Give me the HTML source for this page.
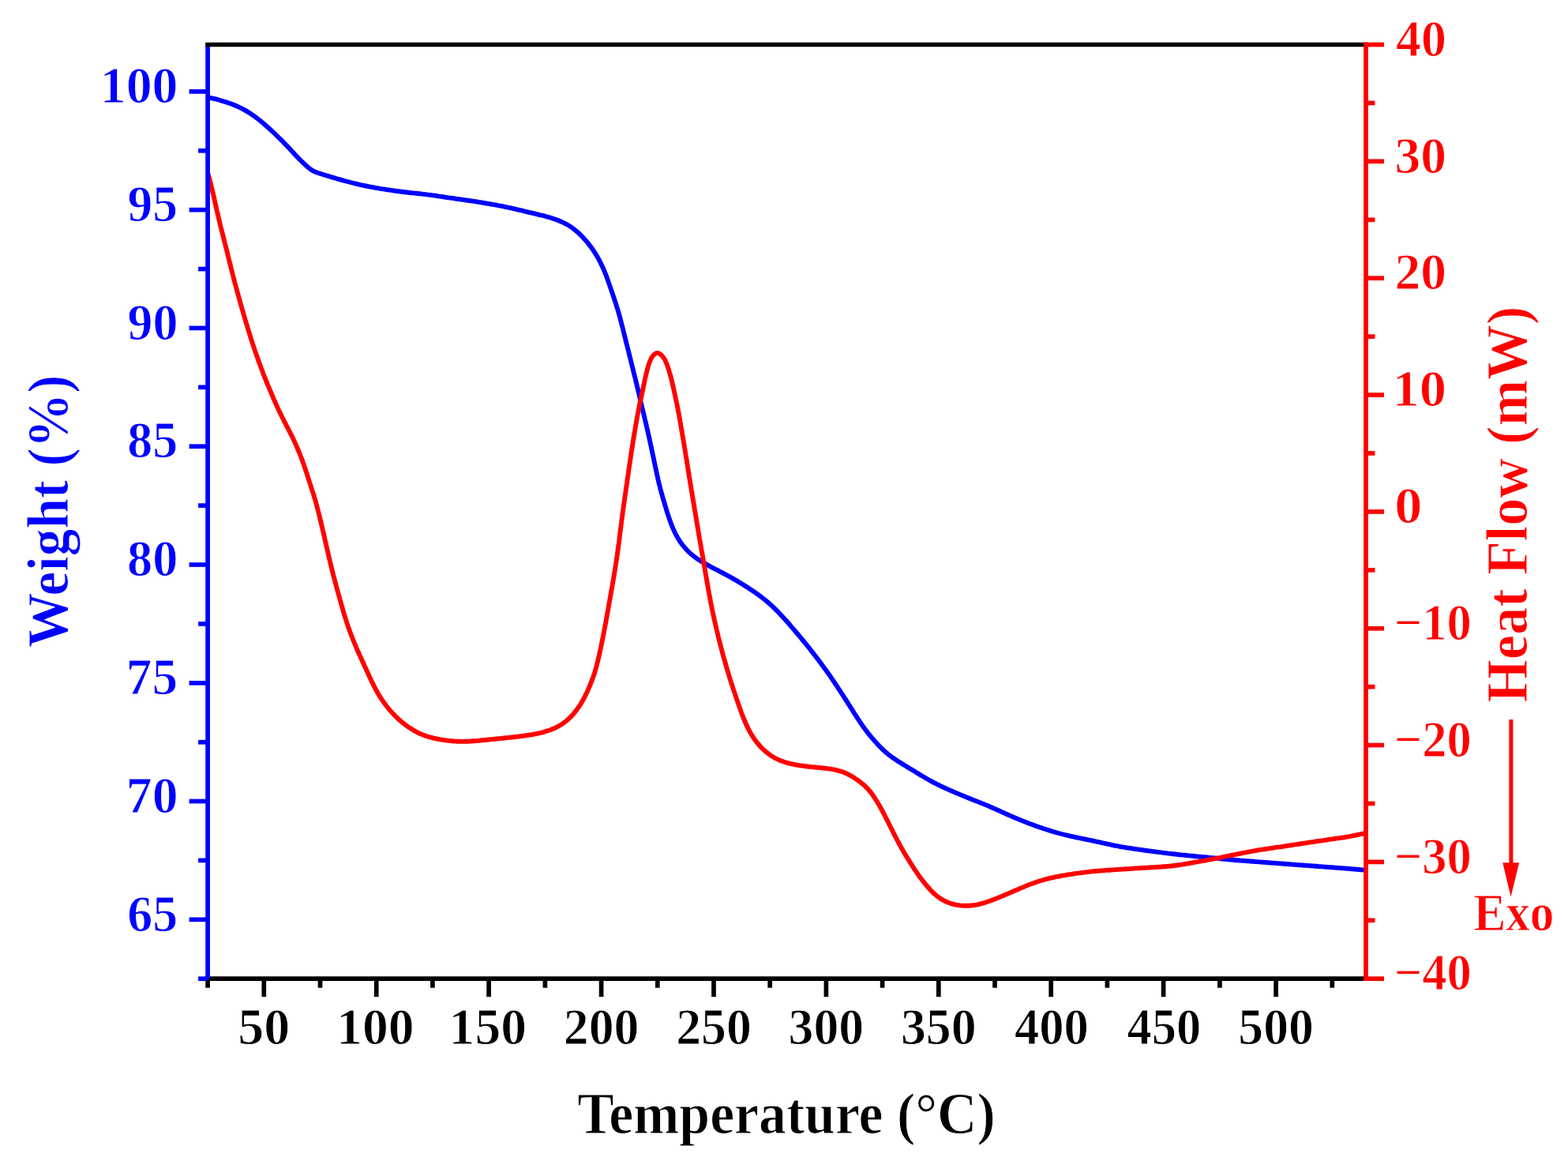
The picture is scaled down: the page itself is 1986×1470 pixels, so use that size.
<!DOCTYPE html><html><head><meta charset="utf-8"><title>TGA/DSC</title><style>html,body{margin:0;padding:0;background:#fff;overflow:hidden}svg{display:block}</style></head><body>
<svg width="1986" height="1470" viewBox="0 0 1986 1470">
<rect width="1986" height="1470" fill="#fff"/>
<defs><clipPath id="c"><rect x="263.1" y="56.5" width="1466.9" height="1182.7"/></clipPath></defs>
<g clip-path="url(#c)" fill="none" stroke-linejoin="round" stroke-linecap="round">
<path d="M263.5,123.3 L265.5,123.7 L267.4,124.1 L269.4,124.6 L271.3,125.0 L273.3,125.4 L275.2,125.9 L277.1,126.5 L279.0,127.1 L280.9,127.6 L282.8,128.2 L284.8,128.8 L286.6,129.4 L288.5,130.0 L290.4,130.7 L292.3,131.3 L294.2,132.0 L296.0,132.7 L297.9,133.5 L299.7,134.3 L301.5,135.1 L303.3,135.9 L305.1,136.8 L306.9,137.7 L308.6,138.6 L310.4,139.6 L312.1,140.6 L313.8,141.6 L315.5,142.7 L317.2,143.8 L318.8,144.9 L320.5,146.0 L322.1,147.2 L323.7,148.4 L325.3,149.5 L326.9,150.8 L328.4,152.0 L330.0,153.2 L331.5,154.5 L333.1,155.8 L334.6,157.1 L336.1,158.4 L337.6,159.7 L339.1,161.0 L340.6,162.4 L342.1,163.7 L343.5,165.1 L345.0,166.4 L346.5,167.8 L347.9,169.2 L349.4,170.6 L350.8,172.0 L352.2,173.4 L353.7,174.8 L355.1,176.2 L356.5,177.6 L357.9,179.0 L359.3,180.4 L360.7,181.9 L362.1,183.3 L363.5,184.7 L364.8,186.2 L366.2,187.6 L367.6,189.1 L368.9,190.6 L370.3,192.0 L371.7,193.5 L373.0,195.0 L374.4,196.4 L375.7,197.9 L377.1,199.3 L378.5,200.8 L379.9,202.2 L381.3,203.6 L382.8,205.0 L384.2,206.3 L385.6,207.7 L387.1,209.1 L388.6,210.4 L390.1,211.7 L391.6,213.0 L393.2,214.2 L394.8,215.3 L396.6,216.3 L398.3,217.2 L400.2,218.0 L402.0,218.7 L403.9,219.3 L405.8,219.9 L407.7,220.5 L409.7,221.1 L411.6,221.7 L413.5,222.3 L415.4,222.9 L417.3,223.4 L419.2,224.0 L421.1,224.6 L423.1,225.2 L425.0,225.7 L426.9,226.3 L428.8,226.8 L430.7,227.4 L432.7,227.9 L434.6,228.4 L436.5,229.0 L438.5,229.5 L440.4,230.0 L442.3,230.5 L444.3,231.0 L446.2,231.5 L448.1,232.0 L450.1,232.5 L452.0,232.9 L454.0,233.4 L455.9,233.8 L457.9,234.3 L459.8,234.7 L461.8,235.1 L463.7,235.5 L465.7,235.9 L467.7,236.3 L469.6,236.7 L471.6,237.0 L473.5,237.4 L475.5,237.8 L477.5,238.1 L479.5,238.4 L481.4,238.8 L483.4,239.1 L485.4,239.4 L487.4,239.7 L489.3,240.0 L491.3,240.3 L493.3,240.6 L495.3,240.9 L497.2,241.2 L499.2,241.5 L501.2,241.8 L503.2,242.0 L505.2,242.3 L507.2,242.5 L509.1,242.8 L511.1,243.0 L513.1,243.3 L515.1,243.5 L517.1,243.7 L519.1,244.0 L521.1,244.2 L523.0,244.4 L525.0,244.6 L527.0,244.8 L529.0,245.0 L531.0,245.2 L533.0,245.4 L535.0,245.7 L537.0,245.9 L538.9,246.1 L540.9,246.4 L542.9,246.6 L544.9,246.9 L546.9,247.2 L548.9,247.4 L550.8,247.7 L552.8,248.0 L554.8,248.3 L556.8,248.6 L558.7,248.9 L560.7,249.2 L562.7,249.5 L564.7,249.8 L566.7,250.1 L568.6,250.4 L570.6,250.6 L572.6,250.9 L574.6,251.2 L576.6,251.5 L578.5,251.8 L580.5,252.1 L582.5,252.3 L584.5,252.6 L586.5,252.9 L588.4,253.2 L590.4,253.5 L592.4,253.8 L594.4,254.0 L596.4,254.3 L598.3,254.6 L600.3,254.9 L602.3,255.2 L604.3,255.5 L606.2,255.9 L608.2,256.2 L610.2,256.5 L612.2,256.8 L614.1,257.1 L616.1,257.5 L618.1,257.8 L620.1,258.1 L622.0,258.5 L624.0,258.8 L626.0,259.2 L627.9,259.5 L629.9,259.9 L631.9,260.3 L633.8,260.6 L635.8,261.0 L637.7,261.4 L639.7,261.8 L641.7,262.3 L643.6,262.7 L645.6,263.1 L647.5,263.5 L649.5,264.0 L651.4,264.4 L653.4,264.9 L655.3,265.3 L657.3,265.8 L659.2,266.2 L661.1,266.7 L663.1,267.2 L665.0,267.6 L667.0,268.1 L668.9,268.6 L670.9,269.0 L672.8,269.5 L674.8,269.9 L676.7,270.4 L678.7,270.9 L680.6,271.3 L682.5,271.8 L684.5,272.3 L686.4,272.7 L688.4,273.2 L690.3,273.7 L692.2,274.3 L694.2,274.8 L696.1,275.4 L698.0,275.9 L699.9,276.5 L701.8,277.2 L703.7,277.8 L705.5,278.5 L707.4,279.2 L709.2,280.0 L711.1,280.8 L712.9,281.6 L714.6,282.5 L716.4,283.4 L718.2,284.3 L719.9,285.3 L721.6,286.3 L723.2,287.4 L724.8,288.6 L726.4,289.7 L728.0,291.0 L729.5,292.2 L731.0,293.5 L732.5,294.8 L734.0,296.2 L735.4,297.6 L736.8,299.0 L738.2,300.4 L739.5,301.9 L740.9,303.4 L742.2,304.9 L743.5,306.4 L744.8,307.9 L746.0,309.5 L747.2,311.1 L748.4,312.6 L749.6,314.3 L750.7,315.9 L751.8,317.5 L752.9,319.2 L754.0,320.9 L755.0,322.6 L756.1,324.3 L757.1,326.0 L758.0,327.8 L759.0,329.5 L759.9,331.3 L760.8,333.1 L761.7,334.9 L762.6,336.7 L763.4,338.5 L764.2,340.3 L765.0,342.1 L765.8,344.0 L766.5,345.8 L767.3,347.7 L768.0,349.5 L768.7,351.4 L769.3,353.3 L770.0,355.2 L770.7,357.1 L771.3,359.0 L772.0,360.8 L772.6,362.7 L773.3,364.6 L773.9,366.5 L774.6,368.4 L775.2,370.3 L775.9,372.2 L776.5,374.1 L777.2,376.0 L777.8,377.9 L778.4,379.8 L779.1,381.7 L779.7,383.6 L780.3,385.5 L780.9,387.4 L781.5,389.3 L782.1,391.2 L782.7,393.1 L783.2,395.0 L783.8,396.9 L784.3,398.9 L784.9,400.8 L785.4,402.7 L785.9,404.7 L786.4,406.6 L786.9,408.5 L787.4,410.5 L787.9,412.4 L788.4,414.3 L788.9,416.3 L789.4,418.2 L789.8,420.2 L790.3,422.1 L790.8,424.0 L791.3,426.0 L791.8,427.9 L792.3,429.9 L792.7,431.8 L793.2,433.7 L793.7,435.7 L794.2,437.6 L794.7,439.6 L795.2,441.5 L795.7,443.4 L796.2,445.4 L796.6,447.3 L797.1,449.3 L797.6,451.2 L798.1,453.1 L798.6,455.1 L799.1,457.0 L799.5,459.0 L800.0,460.9 L800.5,462.9 L801.0,464.8 L801.5,466.7 L802.0,468.7 L802.4,470.6 L802.9,472.6 L803.4,474.5 L803.9,476.4 L804.4,478.4 L804.9,480.3 L805.3,482.3 L805.8,484.2 L806.3,486.1 L806.7,488.1 L807.2,490.0 L807.7,492.0 L808.1,493.9 L808.6,495.9 L809.0,497.8 L809.5,499.8 L809.9,501.7 L810.4,503.7 L810.8,505.6 L811.3,507.6 L811.8,509.5 L812.2,511.5 L812.7,513.4 L813.1,515.3 L813.6,517.3 L814.1,519.2 L814.5,521.2 L815.0,523.1 L815.5,525.1 L815.9,527.0 L816.4,529.0 L816.8,530.9 L817.3,532.9 L817.8,534.8 L818.2,536.8 L818.7,538.7 L819.1,540.7 L819.6,542.6 L820.0,544.5 L820.5,546.5 L820.9,548.4 L821.3,550.4 L821.8,552.4 L822.2,554.3 L822.7,556.3 L823.1,558.2 L823.5,560.2 L823.9,562.1 L824.4,564.1 L824.8,566.0 L825.2,568.0 L825.6,569.9 L826.0,571.9 L826.4,573.9 L826.9,575.8 L827.3,577.8 L827.7,579.7 L828.1,581.7 L828.5,583.6 L828.9,585.6 L829.3,587.6 L829.7,589.5 L830.1,591.5 L830.6,593.4 L831.0,595.4 L831.4,597.3 L831.8,599.3 L832.2,601.2 L832.7,603.2 L833.1,605.2 L833.5,607.1 L834.0,609.1 L834.4,611.0 L834.9,612.9 L835.4,614.9 L835.9,616.8 L836.3,618.8 L836.9,620.7 L837.4,622.6 L837.9,624.6 L838.5,626.5 L839.0,628.4 L839.6,630.3 L840.1,632.2 L840.7,634.2 L841.3,636.1 L841.8,638.0 L842.4,639.9 L843.0,641.8 L843.6,643.7 L844.1,645.6 L844.7,647.6 L845.3,649.5 L845.9,651.4 L846.5,653.3 L847.2,655.2 L847.8,657.1 L848.5,658.9 L849.2,660.8 L849.8,662.7 L850.6,664.6 L851.3,666.4 L852.1,668.3 L852.9,670.1 L853.7,671.9 L854.5,673.7 L855.4,675.5 L856.3,677.3 L857.3,679.0 L858.3,680.7 L859.3,682.4 L860.3,684.1 L861.4,685.8 L862.6,687.4 L863.7,689.0 L864.9,690.6 L866.2,692.1 L867.5,693.6 L868.8,695.1 L870.2,696.6 L871.6,698.0 L873.0,699.4 L874.4,700.7 L875.9,702.0 L877.5,703.3 L879.0,704.5 L880.6,705.7 L882.2,706.9 L883.9,708.0 L885.5,709.1 L887.2,710.2 L888.9,711.2 L890.6,712.2 L892.3,713.2 L894.1,714.2 L895.8,715.2 L897.6,716.2 L899.3,717.1 L901.1,718.1 L902.9,719.0 L904.6,719.9 L906.4,720.8 L908.2,721.7 L910.0,722.7 L911.7,723.6 L913.5,724.5 L915.3,725.4 L917.1,726.4 L918.8,727.3 L920.6,728.2 L922.3,729.2 L924.1,730.1 L925.8,731.1 L927.6,732.1 L929.3,733.1 L931.1,734.1 L932.8,735.1 L934.5,736.1 L936.2,737.2 L937.9,738.2 L939.6,739.3 L941.3,740.3 L943.0,741.4 L944.7,742.4 L946.4,743.5 L948.1,744.6 L949.7,745.7 L951.4,746.8 L953.1,747.9 L954.7,749.0 L956.4,750.2 L958.0,751.3 L959.6,752.5 L961.3,753.6 L962.9,754.8 L964.5,756.0 L966.0,757.2 L967.6,758.5 L969.2,759.7 L970.7,761.0 L972.2,762.3 L973.8,763.6 L975.2,764.9 L976.7,766.2 L978.2,767.6 L979.6,769.0 L981.1,770.4 L982.5,771.8 L983.9,773.2 L985.3,774.6 L986.7,776.0 L988.1,777.5 L989.4,778.9 L990.8,780.4 L992.1,781.9 L993.5,783.4 L994.8,784.8 L996.2,786.3 L997.5,787.8 L998.8,789.3 L1000.1,790.8 L1001.4,792.4 L1002.7,793.9 L1004.0,795.4 L1005.3,796.9 L1006.6,798.4 L1007.9,800.0 L1009.2,801.5 L1010.5,803.0 L1011.8,804.5 L1013.1,806.1 L1014.4,807.6 L1015.6,809.2 L1016.9,810.7 L1018.2,812.2 L1019.5,813.8 L1020.7,815.3 L1022.0,816.9 L1023.2,818.5 L1024.5,820.0 L1025.7,821.6 L1026.9,823.2 L1028.2,824.7 L1029.4,826.3 L1030.6,827.9 L1031.9,829.5 L1033.1,831.1 L1034.3,832.6 L1035.5,834.2 L1036.7,835.8 L1037.9,837.4 L1039.1,839.0 L1040.3,840.6 L1041.5,842.3 L1042.7,843.9 L1043.8,845.5 L1045.0,847.1 L1046.2,848.7 L1047.4,850.3 L1048.5,852.0 L1049.7,853.6 L1050.8,855.2 L1052.0,856.9 L1053.1,858.5 L1054.2,860.2 L1055.4,861.8 L1056.5,863.5 L1057.6,865.1 L1058.7,866.8 L1059.8,868.4 L1060.9,870.1 L1062.0,871.8 L1063.1,873.5 L1064.2,875.1 L1065.3,876.8 L1066.4,878.5 L1067.5,880.2 L1068.6,881.9 L1069.6,883.5 L1070.7,885.2 L1071.8,886.9 L1072.9,888.6 L1073.9,890.3 L1075.0,892.0 L1076.1,893.7 L1077.2,895.4 L1078.2,897.0 L1079.3,898.7 L1080.4,900.4 L1081.4,902.1 L1082.5,903.8 L1083.6,905.5 L1084.7,907.2 L1085.8,908.8 L1086.9,910.5 L1088.0,912.2 L1089.1,913.9 L1090.2,915.5 L1091.3,917.2 L1092.4,918.8 L1093.6,920.4 L1094.8,922.1 L1096.0,923.7 L1097.2,925.3 L1098.4,926.8 L1099.6,928.4 L1100.8,930.0 L1102.1,931.5 L1103.4,933.1 L1104.7,934.6 L1106.0,936.1 L1107.3,937.6 L1108.6,939.1 L1110.0,940.6 L1111.3,942.1 L1112.7,943.5 L1114.0,945.0 L1115.4,946.4 L1116.9,947.8 L1118.3,949.2 L1119.8,950.5 L1121.2,951.9 L1122.7,953.2 L1124.3,954.4 L1125.8,955.7 L1127.4,956.9 L1129.0,958.1 L1130.6,959.2 L1132.3,960.4 L1133.9,961.5 L1135.6,962.6 L1137.2,963.7 L1138.9,964.8 L1140.6,965.8 L1142.3,966.9 L1144.0,967.9 L1145.7,969.0 L1147.4,970.0 L1149.1,971.1 L1150.8,972.1 L1152.5,973.2 L1154.2,974.2 L1156.0,975.2 L1157.7,976.3 L1159.4,977.3 L1161.1,978.4 L1162.8,979.4 L1164.5,980.4 L1166.2,981.5 L1167.9,982.5 L1169.7,983.5 L1171.4,984.5 L1173.1,985.5 L1174.8,986.5 L1176.6,987.5 L1178.3,988.5 L1180.1,989.4 L1181.8,990.4 L1183.6,991.3 L1185.4,992.2 L1187.2,993.1 L1189.0,994.0 L1190.7,994.9 L1192.5,995.8 L1194.4,996.6 L1196.2,997.5 L1198.0,998.3 L1199.8,999.1 L1201.6,999.9 L1203.5,1000.7 L1205.3,1001.5 L1207.2,1002.3 L1209.0,1003.1 L1210.8,1003.9 L1212.7,1004.6 L1214.5,1005.4 L1216.4,1006.2 L1218.2,1006.9 L1220.1,1007.7 L1221.9,1008.4 L1223.8,1009.2 L1225.6,1009.9 L1227.5,1010.7 L1229.3,1011.4 L1231.2,1012.2 L1233.1,1012.9 L1234.9,1013.7 L1236.8,1014.4 L1238.6,1015.1 L1240.5,1015.9 L1242.3,1016.6 L1244.2,1017.4 L1246.1,1018.1 L1247.9,1018.9 L1249.8,1019.6 L1251.6,1020.4 L1253.4,1021.2 L1255.3,1022.0 L1257.1,1022.8 L1258.9,1023.6 L1260.8,1024.4 L1262.6,1025.2 L1264.4,1026.0 L1266.2,1026.8 L1268.1,1027.7 L1269.9,1028.5 L1271.7,1029.3 L1273.5,1030.2 L1275.3,1031.0 L1277.2,1031.8 L1279.0,1032.6 L1280.8,1033.4 L1282.7,1034.2 L1284.5,1035.0 L1286.3,1035.8 L1288.2,1036.6 L1290.0,1037.3 L1291.9,1038.1 L1293.7,1038.8 L1295.6,1039.6 L1297.4,1040.3 L1299.3,1041.0 L1301.2,1041.7 L1303.0,1042.5 L1304.9,1043.2 L1306.8,1043.8 L1308.7,1044.5 L1310.6,1045.2 L1312.4,1045.9 L1314.3,1046.6 L1316.2,1047.2 L1318.1,1047.9 L1320.0,1048.5 L1321.9,1049.2 L1323.8,1049.8 L1325.7,1050.4 L1327.6,1051.0 L1329.5,1051.6 L1331.4,1052.2 L1333.3,1052.8 L1335.2,1053.4 L1337.1,1053.9 L1339.1,1054.5 L1341.0,1055.0 L1342.9,1055.5 L1344.9,1056.0 L1346.8,1056.5 L1348.7,1057.0 L1350.7,1057.5 L1352.6,1057.9 L1354.6,1058.4 L1356.5,1058.8 L1358.5,1059.2 L1360.4,1059.7 L1362.4,1060.1 L1364.4,1060.5 L1366.3,1060.9 L1368.3,1061.3 L1370.2,1061.7 L1372.2,1062.1 L1374.2,1062.5 L1376.1,1062.9 L1378.1,1063.3 L1380.0,1063.7 L1382.0,1064.1 L1383.9,1064.5 L1385.9,1064.9 L1387.8,1065.3 L1389.8,1065.8 L1391.8,1066.2 L1393.7,1066.6 L1395.7,1067.1 L1397.6,1067.5 L1399.6,1068.0 L1401.5,1068.4 L1403.5,1068.8 L1405.4,1069.2 L1407.4,1069.7 L1409.3,1070.1 L1411.3,1070.5 L1413.3,1070.9 L1415.2,1071.2 L1417.2,1071.6 L1419.1,1072.0 L1421.1,1072.3 L1423.1,1072.7 L1425.1,1073.0 L1427.0,1073.3 L1429.0,1073.6 L1431.0,1073.9 L1433.0,1074.2 L1434.9,1074.5 L1436.9,1074.8 L1438.9,1075.1 L1440.9,1075.4 L1442.9,1075.7 L1444.8,1075.9 L1446.8,1076.2 L1448.8,1076.5 L1450.8,1076.8 L1452.8,1077.0 L1454.7,1077.3 L1456.7,1077.6 L1458.7,1077.8 L1460.7,1078.1 L1462.7,1078.3 L1464.7,1078.6 L1466.6,1078.9 L1468.6,1079.1 L1470.6,1079.4 L1472.6,1079.6 L1474.6,1079.9 L1476.6,1080.1 L1478.5,1080.4 L1480.5,1080.6 L1482.5,1080.8 L1484.5,1081.1 L1486.5,1081.3 L1488.5,1081.5 L1490.5,1081.7 L1492.5,1082.0 L1494.4,1082.2 L1496.4,1082.4 L1498.4,1082.6 L1500.4,1082.8 L1502.4,1083.0 L1504.4,1083.2 L1506.4,1083.4 L1508.4,1083.6 L1510.4,1083.8 L1512.3,1084.0 L1514.3,1084.2 L1516.3,1084.4 L1518.3,1084.6 L1520.3,1084.8 L1522.3,1085.0 L1524.3,1085.1 L1526.3,1085.3 L1528.3,1085.5 L1530.3,1085.7 L1532.3,1085.9 L1534.2,1086.1 L1536.2,1086.3 L1538.2,1086.5 L1540.2,1086.7 L1542.2,1086.9 L1544.2,1087.1 L1546.2,1087.3 L1548.2,1087.5 L1550.2,1087.7 L1552.2,1087.9 L1554.1,1088.1 L1556.1,1088.3 L1558.1,1088.5 L1560.1,1088.6 L1562.1,1088.8 L1564.1,1089.0 L1566.1,1089.2 L1568.1,1089.3 L1570.1,1089.5 L1572.1,1089.6 L1574.1,1089.8 L1576.1,1089.9 L1578.1,1090.1 L1580.1,1090.2 L1582.1,1090.4 L1584.0,1090.5 L1586.0,1090.7 L1588.0,1090.8 L1590.0,1091.0 L1592.0,1091.1 L1594.0,1091.3 L1596.0,1091.4 L1598.0,1091.6 L1600.0,1091.7 L1602.0,1091.9 L1604.0,1092.0 L1606.0,1092.2 L1608.0,1092.3 L1610.0,1092.5 L1612.0,1092.6 L1614.0,1092.8 L1616.0,1092.9 L1618.0,1093.1 L1619.9,1093.2 L1621.9,1093.4 L1623.9,1093.5 L1625.9,1093.7 L1627.9,1093.8 L1629.9,1094.0 L1631.9,1094.1 L1633.9,1094.3 L1635.9,1094.5 L1637.9,1094.6 L1639.9,1094.8 L1641.9,1094.9 L1643.9,1095.1 L1645.9,1095.2 L1647.9,1095.4 L1649.9,1095.5 L1651.9,1095.7 L1653.8,1095.8 L1655.8,1095.9 L1657.8,1096.1 L1659.8,1096.2 L1661.8,1096.4 L1663.8,1096.5 L1665.8,1096.7 L1667.8,1096.8 L1669.8,1097.0 L1671.8,1097.1 L1673.8,1097.3 L1675.8,1097.4 L1677.8,1097.6 L1679.8,1097.7 L1681.8,1097.9 L1683.8,1098.0 L1685.8,1098.2 L1687.8,1098.3 L1689.7,1098.5 L1691.7,1098.6 L1693.7,1098.8 L1695.7,1098.9 L1697.7,1099.1 L1699.7,1099.2 L1701.7,1099.4 L1703.7,1099.5 L1705.7,1099.7 L1707.7,1099.8 L1709.7,1100.0 L1711.7,1100.2 L1713.7,1100.4 L1715.7,1100.5 L1717.7,1100.7 L1719.7,1100.9 L1721.6,1101.0 L1723.6,1101.2 L1725.6,1101.4 L1727.6,1101.6 L1729.6,1101.8" stroke="#0000ff" stroke-width="5.9"/>
<path d="M263.5,220.0 L264.0,221.9 L264.6,223.9 L265.1,225.8 L265.6,227.7 L266.1,229.6 L266.6,231.6 L267.1,233.5 L267.6,235.5 L268.0,237.4 L268.5,239.4 L269.0,241.3 L269.4,243.3 L269.9,245.2 L270.3,247.2 L270.8,249.1 L271.2,251.1 L271.6,253.0 L272.1,255.0 L272.5,256.9 L273.0,258.9 L273.4,260.8 L273.8,262.8 L274.3,264.7 L274.7,266.7 L275.2,268.6 L275.6,270.6 L276.1,272.5 L276.5,274.5 L277.0,276.4 L277.4,278.3 L277.9,280.3 L278.4,282.2 L278.9,284.2 L279.3,286.1 L279.8,288.1 L280.3,290.0 L280.8,291.9 L281.3,293.9 L281.8,295.8 L282.3,297.8 L282.8,299.7 L283.3,301.6 L283.7,303.6 L284.2,305.5 L284.7,307.4 L285.2,309.4 L285.7,311.3 L286.2,313.3 L286.7,315.2 L287.2,317.1 L287.6,319.1 L288.1,321.0 L288.6,323.0 L289.1,324.9 L289.6,326.9 L290.0,328.8 L290.5,330.7 L291.0,332.7 L291.5,334.6 L292.0,336.6 L292.5,338.5 L292.9,340.4 L293.4,342.4 L293.9,344.3 L294.4,346.3 L294.9,348.2 L295.4,350.1 L295.9,352.1 L296.4,354.0 L296.9,355.9 L297.4,357.9 L297.9,359.8 L298.5,361.7 L299.0,363.7 L299.5,365.6 L300.0,367.5 L300.5,369.5 L301.1,371.4 L301.6,373.3 L302.1,375.2 L302.7,377.2 L303.2,379.1 L303.8,381.0 L304.3,382.9 L304.8,384.9 L305.4,386.8 L305.9,388.7 L306.5,390.6 L307.1,392.6 L307.6,394.5 L308.2,396.4 L308.7,398.3 L309.3,400.2 L309.8,402.2 L310.4,404.1 L311.0,406.0 L311.5,407.9 L312.1,409.8 L312.7,411.7 L313.3,413.7 L313.8,415.6 L314.4,417.5 L315.0,419.4 L315.6,421.3 L316.2,423.2 L316.8,425.1 L317.4,427.0 L318.0,429.0 L318.6,430.9 L319.2,432.8 L319.8,434.7 L320.4,436.6 L321.1,438.5 L321.7,440.4 L322.3,442.3 L323.0,444.1 L323.6,446.0 L324.3,447.9 L325.0,449.8 L325.6,451.7 L326.3,453.6 L327.0,455.5 L327.6,457.4 L328.3,459.2 L329.0,461.1 L329.7,463.0 L330.4,464.9 L331.1,466.7 L331.8,468.6 L332.5,470.5 L333.2,472.4 L333.9,474.2 L334.6,476.1 L335.3,478.0 L336.1,479.8 L336.8,481.7 L337.6,483.5 L338.3,485.4 L339.1,487.2 L339.9,489.1 L340.7,490.9 L341.4,492.7 L342.2,494.6 L343.0,496.4 L343.8,498.3 L344.6,500.1 L345.4,501.9 L346.1,503.8 L346.9,505.6 L347.7,507.5 L348.5,509.3 L349.3,511.1 L350.1,512.9 L350.9,514.8 L351.8,516.6 L352.6,518.4 L353.5,520.2 L354.3,522.0 L355.2,523.8 L356.1,525.6 L357.0,527.4 L357.9,529.2 L358.8,531.0 L359.7,532.8 L360.6,534.5 L361.5,536.3 L362.4,538.1 L363.3,539.9 L364.2,541.6 L365.2,543.4 L366.1,545.2 L367.0,547.0 L367.9,548.7 L368.8,550.5 L369.7,552.3 L370.6,554.1 L371.5,555.9 L372.3,557.7 L373.2,559.5 L374.0,561.3 L374.8,563.2 L375.6,565.0 L376.4,566.8 L377.2,568.7 L378.0,570.5 L378.7,572.4 L379.5,574.2 L380.2,576.1 L380.9,577.9 L381.7,579.8 L382.4,581.7 L383.1,583.5 L383.7,585.4 L384.4,587.3 L385.1,589.2 L385.7,591.1 L386.4,593.0 L387.0,594.9 L387.6,596.8 L388.3,598.7 L388.9,600.6 L389.5,602.5 L390.1,604.4 L390.7,606.3 L391.3,608.2 L391.9,610.1 L392.5,612.0 L393.2,613.9 L393.8,615.8 L394.4,617.7 L395.0,619.6 L395.6,621.5 L396.3,623.4 L396.9,625.3 L397.5,627.2 L398.0,629.1 L398.6,631.0 L399.2,633.0 L399.7,634.9 L400.3,636.8 L400.8,638.7 L401.3,640.7 L401.8,642.6 L402.3,644.5 L402.8,646.5 L403.3,648.4 L403.8,650.3 L404.3,652.3 L404.8,654.2 L405.2,656.2 L405.7,658.1 L406.2,660.1 L406.6,662.0 L407.1,664.0 L407.6,665.9 L408.0,667.8 L408.5,669.8 L408.9,671.7 L409.4,673.7 L409.9,675.6 L410.3,677.6 L410.8,679.5 L411.2,681.5 L411.6,683.4 L412.1,685.4 L412.5,687.3 L413.0,689.3 L413.4,691.2 L413.9,693.2 L414.3,695.1 L414.7,697.1 L415.2,699.0 L415.6,701.0 L416.1,702.9 L416.5,704.9 L417.0,706.8 L417.4,708.8 L417.9,710.7 L418.4,712.7 L418.8,714.6 L419.3,716.5 L419.8,718.5 L420.3,720.4 L420.8,722.4 L421.2,724.3 L421.7,726.2 L422.2,728.2 L422.7,730.1 L423.2,732.1 L423.7,734.0 L424.3,735.9 L424.8,737.9 L425.3,739.8 L425.8,741.7 L426.3,743.7 L426.8,745.6 L427.4,747.5 L427.9,749.4 L428.4,751.4 L429.0,753.3 L429.5,755.2 L430.1,757.1 L430.6,759.1 L431.1,761.0 L431.7,762.9 L432.2,764.8 L432.8,766.8 L433.3,768.7 L433.9,770.6 L434.4,772.5 L435.0,774.5 L435.5,776.4 L436.1,778.3 L436.7,780.2 L437.3,782.1 L437.9,784.0 L438.5,785.9 L439.1,787.8 L439.7,789.7 L440.4,791.6 L441.0,793.5 L441.7,795.4 L442.4,797.3 L443.0,799.2 L443.7,801.0 L444.4,802.9 L445.1,804.8 L445.9,806.6 L446.6,808.5 L447.3,810.4 L448.1,812.2 L448.8,814.1 L449.6,815.9 L450.4,817.8 L451.1,819.6 L451.9,821.4 L452.7,823.3 L453.5,825.1 L454.4,826.9 L455.2,828.8 L456.0,830.6 L456.8,832.4 L457.7,834.2 L458.5,836.0 L459.3,837.8 L460.2,839.7 L461.0,841.5 L461.8,843.3 L462.7,845.1 L463.5,846.9 L464.3,848.8 L465.2,850.6 L466.0,852.4 L466.8,854.2 L467.6,856.0 L468.5,857.9 L469.3,859.7 L470.2,861.5 L471.0,863.3 L471.9,865.1 L472.8,866.9 L473.7,868.7 L474.6,870.4 L475.5,872.2 L476.5,874.0 L477.5,875.7 L478.4,877.4 L479.5,879.2 L480.5,880.9 L481.5,882.5 L482.6,884.2 L483.7,885.9 L484.9,887.5 L486.0,889.2 L487.2,890.8 L488.4,892.4 L489.6,894.0 L490.8,895.5 L492.1,897.1 L493.4,898.6 L494.6,900.1 L496.0,901.6 L497.3,903.1 L498.7,904.6 L500.0,906.0 L501.4,907.4 L502.9,908.8 L504.3,910.2 L505.8,911.5 L507.3,912.8 L508.8,914.1 L510.4,915.3 L511.9,916.6 L513.5,917.8 L515.1,919.0 L516.7,920.1 L518.4,921.3 L520.1,922.3 L521.7,923.4 L523.4,924.4 L525.2,925.4 L526.9,926.4 L528.7,927.3 L530.4,928.2 L532.2,929.0 L534.1,929.8 L535.9,930.5 L537.8,931.2 L539.6,931.9 L541.5,932.5 L543.4,933.1 L545.4,933.6 L547.3,934.1 L549.2,934.6 L551.2,935.0 L553.1,935.4 L555.1,935.8 L557.0,936.2 L559.0,936.5 L561.0,936.8 L562.9,937.1 L564.9,937.4 L566.9,937.7 L568.9,937.9 L570.9,938.1 L572.9,938.3 L574.8,938.5 L576.8,938.6 L578.8,938.7 L580.8,938.8 L582.8,938.9 L584.8,938.9 L586.8,938.9 L588.8,938.8 L590.8,938.8 L592.8,938.7 L594.8,938.6 L596.8,938.5 L598.8,938.3 L600.8,938.2 L602.8,938.1 L604.7,937.9 L606.7,937.7 L608.7,937.5 L610.7,937.3 L612.7,937.1 L614.7,936.9 L616.7,936.7 L618.7,936.5 L620.7,936.3 L622.7,936.1 L624.6,935.9 L626.6,935.7 L628.6,935.5 L630.6,935.3 L632.6,935.1 L634.6,934.9 L636.6,934.7 L638.6,934.5 L640.6,934.3 L642.6,934.1 L644.5,933.9 L646.5,933.7 L648.5,933.5 L650.5,933.3 L652.5,933.0 L654.5,932.8 L656.5,932.6 L658.4,932.3 L660.4,932.1 L662.4,931.8 L664.4,931.5 L666.4,931.2 L668.4,930.9 L670.3,930.6 L672.3,930.3 L674.3,930.0 L676.2,929.6 L678.2,929.3 L680.2,928.9 L682.1,928.5 L684.1,928.0 L686.0,927.6 L687.9,927.1 L689.8,926.5 L691.7,925.9 L693.6,925.3 L695.5,924.7 L697.4,924.0 L699.2,923.3 L701.1,922.5 L702.9,921.7 L704.7,920.9 L706.4,920.0 L708.2,919.0 L709.9,918.0 L711.6,917.0 L713.2,915.9 L714.8,914.7 L716.4,913.5 L717.9,912.3 L719.4,911.0 L720.8,909.6 L722.3,908.3 L723.6,906.8 L725.0,905.4 L726.3,903.9 L727.6,902.4 L728.8,900.8 L730.1,899.3 L731.2,897.7 L732.4,896.0 L733.5,894.4 L734.6,892.7 L735.7,891.1 L736.7,889.3 L737.7,887.6 L738.7,885.9 L739.6,884.1 L740.5,882.4 L741.4,880.6 L742.3,878.8 L743.2,877.0 L744.0,875.2 L744.8,873.3 L745.6,871.5 L746.4,869.7 L747.2,867.8 L748.0,866.0 L748.7,864.1 L749.4,862.3 L750.1,860.4 L750.8,858.5 L751.5,856.7 L752.1,854.8 L752.8,852.9 L753.4,851.0 L753.9,849.1 L754.5,847.1 L755.0,845.2 L755.6,843.3 L756.1,841.3 L756.5,839.4 L757.0,837.5 L757.5,835.5 L758.0,833.6 L758.4,831.6 L758.8,829.7 L759.3,827.7 L759.7,825.8 L760.1,823.8 L760.6,821.9 L761.0,819.9 L761.4,818.0 L761.8,816.0 L762.2,814.0 L762.6,812.1 L763.0,810.1 L763.4,808.2 L763.8,806.2 L764.2,804.2 L764.6,802.3 L764.9,800.3 L765.3,798.3 L765.7,796.4 L766.1,794.4 L766.4,792.5 L766.8,790.5 L767.2,788.5 L767.5,786.6 L767.9,784.6 L768.2,782.6 L768.6,780.7 L768.9,778.7 L769.3,776.7 L769.7,774.7 L770.0,772.8 L770.4,770.8 L770.7,768.8 L771.0,766.9 L771.4,764.9 L771.7,762.9 L772.1,761.0 L772.4,759.0 L772.8,757.0 L773.1,755.0 L773.5,753.1 L773.8,751.1 L774.2,749.1 L774.5,747.2 L774.9,745.2 L775.2,743.2 L775.6,741.3 L775.9,739.3 L776.2,737.3 L776.6,735.3 L776.9,733.4 L777.2,731.4 L777.6,729.4 L777.9,727.5 L778.2,725.5 L778.5,723.5 L778.9,721.5 L779.2,719.6 L779.5,717.6 L779.8,715.6 L780.1,713.6 L780.4,711.7 L780.7,709.7 L781.0,707.7 L781.3,705.7 L781.6,703.7 L781.9,701.8 L782.2,699.8 L782.4,697.8 L782.7,695.8 L783.0,693.8 L783.2,691.9 L783.5,689.9 L783.8,687.9 L784.0,685.9 L784.3,683.9 L784.5,681.9 L784.7,680.0 L785.0,678.0 L785.2,676.0 L785.5,674.0 L785.7,672.0 L786.0,670.0 L786.2,668.0 L786.5,666.1 L786.7,664.1 L787.0,662.1 L787.2,660.1 L787.5,658.1 L787.8,656.1 L788.0,654.2 L788.3,652.2 L788.6,650.2 L788.8,648.2 L789.1,646.2 L789.4,644.3 L789.7,642.3 L789.9,640.3 L790.2,638.3 L790.5,636.3 L790.8,634.4 L791.0,632.4 L791.3,630.4 L791.6,628.4 L791.9,626.4 L792.2,624.5 L792.5,622.5 L792.7,620.5 L793.0,618.5 L793.3,616.5 L793.6,614.6 L793.9,612.6 L794.2,610.6 L794.4,608.6 L794.7,606.6 L795.0,604.7 L795.3,602.7 L795.6,600.7 L795.9,598.7 L796.2,596.7 L796.4,594.8 L796.7,592.8 L797.0,590.8 L797.3,588.8 L797.6,586.8 L797.9,584.9 L798.2,582.9 L798.5,580.9 L798.8,578.9 L799.0,576.9 L799.3,575.0 L799.6,573.0 L799.9,571.0 L800.2,569.0 L800.6,567.1 L800.9,565.1 L801.2,563.1 L801.5,561.1 L801.8,559.2 L802.1,557.2 L802.4,555.2 L802.7,553.2 L803.1,551.3 L803.4,549.3 L803.7,547.3 L804.1,545.3 L804.4,543.4 L804.7,541.4 L805.1,539.4 L805.4,537.5 L805.8,535.5 L806.1,533.5 L806.4,531.6 L806.8,529.6 L807.2,527.6 L807.5,525.6 L807.9,523.7 L808.3,521.7 L808.6,519.8 L809.0,517.8 L809.4,515.8 L809.8,513.9 L810.2,511.9 L810.6,510.0 L811.1,508.0 L811.5,506.0 L811.9,504.1 L812.3,502.1 L812.7,500.2 L813.1,498.2 L813.6,496.3 L814.0,494.3 L814.4,492.4 L814.8,490.4 L815.2,488.4 L815.6,486.5 L816.0,484.5 L816.4,482.6 L816.8,480.6 L817.2,478.7 L817.7,476.7 L818.1,474.8 L818.6,472.8 L819.1,470.9 L819.5,468.9 L820.1,467.0 L820.6,465.1 L821.1,463.2 L821.7,461.3 L822.4,459.4 L823.1,457.6 L823.9,455.7 L824.7,454.0 L825.7,452.3 L826.8,450.7 L828.1,449.2 L829.6,448.0 L831.3,447.1 L833.1,446.9 L834.8,447.5 L836.4,448.5 L837.9,449.8 L839.2,451.2 L840.4,452.8 L841.5,454.4 L842.4,456.1 L843.2,457.9 L844.0,459.7 L844.7,461.6 L845.4,463.5 L846.1,465.3 L846.7,467.2 L847.3,469.1 L847.8,471.0 L848.4,473.0 L848.9,474.9 L849.5,476.8 L850.0,478.7 L850.5,480.7 L851.0,482.6 L851.4,484.5 L851.9,486.5 L852.3,488.4 L852.8,490.4 L853.2,492.3 L853.6,494.3 L854.0,496.2 L854.5,498.2 L854.9,500.2 L855.3,502.1 L855.7,504.1 L856.1,506.0 L856.6,508.0 L857.0,509.9 L857.4,511.9 L857.8,513.9 L858.2,515.8 L858.6,517.8 L858.9,519.7 L859.3,521.7 L859.7,523.7 L860.0,525.6 L860.4,527.6 L860.7,529.6 L861.1,531.5 L861.4,533.5 L861.8,535.5 L862.1,537.5 L862.4,539.4 L862.8,541.4 L863.1,543.4 L863.5,545.3 L863.8,547.3 L864.1,549.3 L864.5,551.3 L864.8,553.2 L865.1,555.2 L865.5,557.2 L865.8,559.1 L866.1,561.1 L866.5,563.1 L866.8,565.1 L867.1,567.0 L867.5,569.0 L867.8,571.0 L868.1,573.0 L868.4,574.9 L868.7,576.9 L869.0,578.9 L869.4,580.9 L869.7,582.8 L870.0,584.8 L870.3,586.8 L870.6,588.8 L870.9,590.7 L871.2,592.7 L871.6,594.7 L871.9,596.7 L872.2,598.6 L872.5,600.6 L872.8,602.6 L873.1,604.6 L873.5,606.5 L873.8,608.5 L874.1,610.5 L874.4,612.4 L874.8,614.4 L875.1,616.4 L875.4,618.4 L875.7,620.3 L876.1,622.3 L876.4,624.3 L876.7,626.3 L877.0,628.2 L877.4,630.2 L877.7,632.2 L878.0,634.2 L878.4,636.1 L878.7,638.1 L879.0,640.1 L879.4,642.0 L879.7,644.0 L880.0,646.0 L880.4,648.0 L880.7,649.9 L881.0,651.9 L881.3,653.9 L881.7,655.8 L882.0,657.8 L882.3,659.8 L882.7,661.8 L883.0,663.7 L883.3,665.7 L883.6,667.7 L884.0,669.7 L884.3,671.6 L884.6,673.6 L884.9,675.6 L885.3,677.6 L885.6,679.5 L885.9,681.5 L886.3,683.5 L886.6,685.4 L887.0,687.4 L887.3,689.4 L887.6,691.4 L888.0,693.3 L888.3,695.3 L888.7,697.3 L889.0,699.2 L889.4,701.2 L889.7,703.2 L890.1,705.1 L890.4,707.1 L890.8,709.1 L891.1,711.0 L891.4,713.0 L891.8,715.0 L892.1,717.0 L892.5,718.9 L892.8,720.9 L893.1,722.9 L893.5,724.8 L893.8,726.8 L894.1,728.8 L894.5,730.8 L894.8,732.7 L895.2,734.7 L895.5,736.7 L895.8,738.6 L896.2,740.6 L896.5,742.6 L896.9,744.6 L897.2,746.5 L897.6,748.5 L897.9,750.5 L898.3,752.4 L898.7,754.4 L899.0,756.4 L899.4,758.3 L899.8,760.3 L900.1,762.3 L900.5,764.2 L900.9,766.2 L901.3,768.1 L901.7,770.1 L902.1,772.1 L902.5,774.0 L902.9,776.0 L903.3,777.9 L903.8,779.9 L904.2,781.8 L904.6,783.8 L905.0,785.7 L905.5,787.7 L905.9,789.6 L906.4,791.6 L906.8,793.5 L907.3,795.5 L907.7,797.4 L908.2,799.4 L908.6,801.3 L909.1,803.3 L909.6,805.2 L910.0,807.2 L910.5,809.1 L911.0,811.1 L911.5,813.0 L912.0,814.9 L912.5,816.9 L913.0,818.8 L913.5,820.7 L914.0,822.7 L914.5,824.6 L915.0,826.5 L915.5,828.5 L916.1,830.4 L916.6,832.3 L917.2,834.2 L917.7,836.2 L918.3,838.1 L918.8,840.0 L919.4,841.9 L919.9,843.9 L920.5,845.8 L921.0,847.7 L921.6,849.6 L922.2,851.5 L922.8,853.4 L923.3,855.4 L923.9,857.3 L924.5,859.2 L925.1,861.1 L925.7,863.0 L926.3,864.9 L926.9,866.8 L927.6,868.7 L928.2,870.6 L928.8,872.5 L929.4,874.4 L930.1,876.3 L930.7,878.2 L931.4,880.1 L932.0,882.0 L932.6,883.9 L933.3,885.8 L933.9,887.7 L934.6,889.6 L935.2,891.4 L935.9,893.3 L936.5,895.2 L937.2,897.1 L937.9,899.0 L938.6,900.9 L939.2,902.7 L939.9,904.6 L940.7,906.5 L941.4,908.3 L942.1,910.2 L942.9,912.0 L943.7,913.9 L944.5,915.7 L945.3,917.5 L946.1,919.3 L947.0,921.1 L947.9,922.9 L948.8,924.7 L949.7,926.5 L950.7,928.2 L951.7,929.9 L952.8,931.6 L953.8,933.3 L954.9,934.9 L956.1,936.6 L957.2,938.2 L958.5,939.8 L959.7,941.3 L961.0,942.8 L962.3,944.3 L963.6,945.8 L965.0,947.2 L966.5,948.6 L967.9,949.9 L969.4,951.2 L970.9,952.5 L972.5,953.7 L974.0,954.9 L975.7,956.1 L977.3,957.2 L979.0,958.2 L980.7,959.2 L982.4,960.2 L984.2,961.1 L986.0,961.9 L987.8,962.7 L989.6,963.4 L991.5,964.1 L993.4,964.7 L995.2,965.3 L997.2,965.9 L999.1,966.4 L1001.0,966.9 L1003.0,967.3 L1004.9,967.7 L1006.9,968.1 L1008.8,968.5 L1010.8,968.8 L1012.8,969.1 L1014.7,969.4 L1016.7,969.7 L1018.7,970.0 L1020.7,970.2 L1022.7,970.5 L1024.6,970.7 L1026.6,970.9 L1028.6,971.1 L1030.6,971.3 L1032.6,971.5 L1034.6,971.7 L1036.6,971.9 L1038.6,972.1 L1040.6,972.3 L1042.5,972.5 L1044.5,972.7 L1046.5,972.9 L1048.5,973.2 L1050.5,973.4 L1052.4,973.7 L1054.4,974.1 L1056.4,974.4 L1058.3,974.8 L1060.2,975.3 L1062.1,975.8 L1064.0,976.3 L1065.9,976.9 L1067.8,977.6 L1069.6,978.3 L1071.4,979.1 L1073.2,979.9 L1075.0,980.8 L1076.8,981.7 L1078.5,982.7 L1080.2,983.7 L1081.9,984.8 L1083.5,985.9 L1085.2,987.0 L1086.8,988.1 L1088.4,989.3 L1090.0,990.5 L1091.5,991.8 L1093.1,993.0 L1094.6,994.3 L1096.0,995.7 L1097.4,997.1 L1098.8,998.5 L1100.1,1000.0 L1101.4,1001.5 L1102.7,1003.0 L1103.9,1004.6 L1105.1,1006.2 L1106.2,1007.8 L1107.3,1009.4 L1108.4,1011.1 L1109.5,1012.8 L1110.6,1014.5 L1111.6,1016.2 L1112.6,1017.9 L1113.6,1019.6 L1114.6,1021.4 L1115.6,1023.1 L1116.5,1024.9 L1117.5,1026.6 L1118.4,1028.4 L1119.4,1030.2 L1120.3,1031.9 L1121.2,1033.7 L1122.1,1035.5 L1123.0,1037.3 L1123.9,1039.1 L1124.8,1040.8 L1125.7,1042.6 L1126.6,1044.4 L1127.5,1046.2 L1128.4,1048.0 L1129.3,1049.8 L1130.2,1051.6 L1131.1,1053.4 L1132.0,1055.1 L1132.9,1056.9 L1133.8,1058.7 L1134.7,1060.5 L1135.6,1062.3 L1136.6,1064.0 L1137.5,1065.8 L1138.5,1067.6 L1139.4,1069.3 L1140.4,1071.1 L1141.3,1072.8 L1142.3,1074.6 L1143.3,1076.3 L1144.3,1078.0 L1145.3,1079.8 L1146.3,1081.5 L1147.4,1083.2 L1148.4,1084.9 L1149.5,1086.6 L1150.5,1088.3 L1151.6,1090.0 L1152.6,1091.7 L1153.7,1093.4 L1154.8,1095.1 L1155.8,1096.8 L1156.9,1098.4 L1158.0,1100.1 L1159.1,1101.8 L1160.2,1103.4 L1161.3,1105.1 L1162.5,1106.7 L1163.6,1108.4 L1164.8,1110.0 L1166.0,1111.6 L1167.2,1113.2 L1168.4,1114.8 L1169.6,1116.3 L1170.9,1117.9 L1172.1,1119.5 L1173.4,1121.0 L1174.7,1122.5 L1176.0,1124.0 L1177.3,1125.5 L1178.7,1127.0 L1180.1,1128.4 L1181.5,1129.8 L1182.9,1131.2 L1184.4,1132.5 L1185.9,1133.8 L1187.4,1135.0 L1189.0,1136.2 L1190.6,1137.3 L1192.3,1138.4 L1194.0,1139.4 L1195.7,1140.3 L1197.4,1141.2 L1199.2,1142.0 L1201.1,1142.8 L1202.9,1143.4 L1204.8,1144.1 L1206.7,1144.6 L1208.6,1145.1 L1210.5,1145.6 L1212.4,1145.9 L1214.4,1146.2 L1216.3,1146.5 L1218.3,1146.6 L1220.3,1146.8 L1222.3,1146.8 L1224.2,1146.8 L1226.2,1146.8 L1228.2,1146.7 L1230.2,1146.5 L1232.1,1146.3 L1234.1,1146.0 L1236.1,1145.7 L1238.0,1145.3 L1239.9,1144.9 L1241.9,1144.4 L1243.8,1143.9 L1245.7,1143.4 L1247.6,1142.8 L1249.5,1142.2 L1251.4,1141.5 L1253.3,1140.9 L1255.2,1140.2 L1257.0,1139.5 L1258.9,1138.8 L1260.8,1138.1 L1262.6,1137.4 L1264.5,1136.6 L1266.3,1135.9 L1268.2,1135.1 L1270.0,1134.3 L1271.9,1133.6 L1273.7,1132.8 L1275.6,1132.0 L1277.4,1131.2 L1279.2,1130.4 L1281.1,1129.6 L1282.9,1128.8 L1284.7,1128.0 L1286.6,1127.2 L1288.4,1126.5 L1290.3,1125.7 L1292.1,1124.9 L1293.9,1124.1 L1295.8,1123.4 L1297.6,1122.6 L1299.5,1121.8 L1301.3,1121.1 L1303.2,1120.3 L1305.1,1119.6 L1306.9,1118.9 L1308.8,1118.2 L1310.7,1117.5 L1312.6,1116.9 L1314.5,1116.2 L1316.4,1115.6 L1318.3,1115.0 L1320.2,1114.5 L1322.1,1113.9 L1324.0,1113.4 L1326.0,1112.9 L1327.9,1112.4 L1329.8,1111.9 L1331.8,1111.5 L1333.7,1111.0 L1335.7,1110.6 L1337.6,1110.2 L1339.6,1109.8 L1341.6,1109.5 L1343.5,1109.1 L1345.5,1108.7 L1347.5,1108.4 L1349.4,1108.1 L1351.4,1107.7 L1353.4,1107.4 L1355.4,1107.1 L1357.3,1106.8 L1359.3,1106.5 L1361.3,1106.2 L1363.3,1105.9 L1365.3,1105.6 L1367.2,1105.4 L1369.2,1105.1 L1371.2,1104.8 L1373.2,1104.6 L1375.2,1104.3 L1377.2,1104.1 L1379.1,1103.9 L1381.1,1103.6 L1383.1,1103.4 L1385.1,1103.2 L1387.1,1103.0 L1389.1,1102.9 L1391.1,1102.7 L1393.1,1102.5 L1395.1,1102.4 L1397.1,1102.2 L1399.1,1102.1 L1401.0,1101.9 L1403.0,1101.8 L1405.0,1101.7 L1407.0,1101.5 L1409.0,1101.4 L1411.0,1101.3 L1413.0,1101.1 L1415.0,1101.0 L1417.0,1100.9 L1419.0,1100.7 L1421.0,1100.6 L1423.0,1100.5 L1425.0,1100.3 L1427.0,1100.2 L1429.0,1100.1 L1431.0,1099.9 L1433.0,1099.8 L1435.0,1099.7 L1437.0,1099.5 L1439.0,1099.4 L1441.0,1099.3 L1443.0,1099.2 L1445.0,1099.0 L1446.9,1098.9 L1448.9,1098.8 L1450.9,1098.7 L1452.9,1098.6 L1454.9,1098.5 L1456.9,1098.3 L1458.9,1098.2 L1460.9,1098.1 L1462.9,1098.0 L1464.9,1097.9 L1466.9,1097.7 L1468.9,1097.6 L1470.9,1097.5 L1472.9,1097.3 L1474.9,1097.2 L1476.9,1097.0 L1478.9,1096.9 L1480.9,1096.7 L1482.9,1096.5 L1484.8,1096.3 L1486.8,1096.0 L1488.8,1095.8 L1490.8,1095.5 L1492.8,1095.2 L1494.7,1095.0 L1496.7,1094.6 L1498.7,1094.3 L1500.7,1094.0 L1502.6,1093.7 L1504.6,1093.3 L1506.6,1093.0 L1508.5,1092.6 L1510.5,1092.3 L1512.5,1091.9 L1514.5,1091.6 L1516.4,1091.2 L1518.4,1090.9 L1520.4,1090.5 L1522.3,1090.2 L1524.3,1089.8 L1526.3,1089.5 L1528.2,1089.1 L1530.2,1088.7 L1532.2,1088.4 L1534.1,1088.0 L1536.1,1087.6 L1538.1,1087.3 L1540.0,1086.9 L1542.0,1086.5 L1544.0,1086.1 L1545.9,1085.8 L1547.9,1085.4 L1549.8,1085.0 L1551.8,1084.6 L1553.8,1084.2 L1555.7,1083.8 L1557.7,1083.4 L1559.6,1083.0 L1561.6,1082.6 L1563.6,1082.2 L1565.5,1081.8 L1567.5,1081.4 L1569.4,1081.0 L1571.4,1080.6 L1573.4,1080.2 L1575.3,1079.8 L1577.3,1079.4 L1579.2,1079.1 L1581.2,1078.7 L1583.2,1078.3 L1585.1,1077.9 L1587.1,1077.6 L1589.1,1077.2 L1591.0,1076.9 L1593.0,1076.5 L1595.0,1076.2 L1597.0,1075.9 L1598.9,1075.6 L1600.9,1075.3 L1602.9,1075.0 L1604.9,1074.7 L1606.8,1074.4 L1608.8,1074.1 L1610.8,1073.8 L1612.8,1073.5 L1614.8,1073.2 L1616.7,1072.9 L1618.7,1072.6 L1620.7,1072.4 L1622.7,1072.1 L1624.7,1071.8 L1626.6,1071.5 L1628.6,1071.2 L1630.6,1070.9 L1632.6,1070.6 L1634.5,1070.3 L1636.5,1070.0 L1638.5,1069.7 L1640.5,1069.4 L1642.5,1069.1 L1644.4,1068.8 L1646.4,1068.5 L1648.4,1068.2 L1650.4,1067.9 L1652.3,1067.6 L1654.3,1067.3 L1656.3,1067.0 L1658.3,1066.7 L1660.3,1066.4 L1662.2,1066.1 L1664.2,1065.8 L1666.2,1065.5 L1668.2,1065.2 L1670.1,1064.9 L1672.1,1064.6 L1674.1,1064.4 L1676.1,1064.1 L1678.1,1063.8 L1680.0,1063.5 L1682.0,1063.2 L1684.0,1062.9 L1686.0,1062.6 L1687.9,1062.3 L1689.9,1062.0 L1691.9,1061.7 L1693.9,1061.4 L1695.9,1061.2 L1697.8,1060.9 L1699.8,1060.6 L1701.8,1060.3 L1703.8,1060.0 L1705.7,1059.6 L1707.7,1059.3 L1709.7,1058.9 L1711.6,1058.6 L1713.6,1058.2 L1715.6,1057.8 L1717.5,1057.4 L1719.5,1057.0 L1721.4,1056.6 L1723.4,1056.2 L1725.4,1055.8 L1727.3,1055.4 L1729.3,1055.0 L1729.8,1054.9" stroke="#ff0000" stroke-width="5.9"/>
</g>
<g stroke-linecap="butt">
<line x1="260.2" y1="1239.2" x2="1730.0" y2="1239.2" stroke="#000" stroke-width="5.7"/>
<line x1="263.1" y1="56.5" x2="263.1" y2="1242.0" stroke="#0000ff" stroke-width="5.7"/>
<line x1="260.2" y1="56.5" x2="1730.0" y2="56.5" stroke="#000" stroke-width="5.7"/>
<line x1="1730.0" y1="53.6" x2="1730.0" y2="1242.0" stroke="#ff0000" stroke-width="5.7"/>
<line x1="263.1" y1="1239.2" x2="263.1" y2="1250.7" stroke="#000" stroke-width="5.7"/>
<line x1="334.3" y1="1239.2" x2="334.3" y2="1262.2" stroke="#000" stroke-width="5.7"/>
<line x1="405.5" y1="1239.2" x2="405.5" y2="1250.7" stroke="#000" stroke-width="5.7"/>
<line x1="476.7" y1="1239.2" x2="476.7" y2="1262.2" stroke="#000" stroke-width="5.7"/>
<line x1="547.9" y1="1239.2" x2="547.9" y2="1250.7" stroke="#000" stroke-width="5.7"/>
<line x1="619.1" y1="1239.2" x2="619.1" y2="1262.2" stroke="#000" stroke-width="5.7"/>
<line x1="690.4" y1="1239.2" x2="690.4" y2="1250.7" stroke="#000" stroke-width="5.7"/>
<line x1="761.6" y1="1239.2" x2="761.6" y2="1262.2" stroke="#000" stroke-width="5.7"/>
<line x1="832.8" y1="1239.2" x2="832.8" y2="1250.7" stroke="#000" stroke-width="5.7"/>
<line x1="904.0" y1="1239.2" x2="904.0" y2="1262.2" stroke="#000" stroke-width="5.7"/>
<line x1="975.2" y1="1239.2" x2="975.2" y2="1250.7" stroke="#000" stroke-width="5.7"/>
<line x1="1046.4" y1="1239.2" x2="1046.4" y2="1262.2" stroke="#000" stroke-width="5.7"/>
<line x1="1117.6" y1="1239.2" x2="1117.6" y2="1250.7" stroke="#000" stroke-width="5.7"/>
<line x1="1188.8" y1="1239.2" x2="1188.8" y2="1262.2" stroke="#000" stroke-width="5.7"/>
<line x1="1260.0" y1="1239.2" x2="1260.0" y2="1250.7" stroke="#000" stroke-width="5.7"/>
<line x1="1331.2" y1="1239.2" x2="1331.2" y2="1262.2" stroke="#000" stroke-width="5.7"/>
<line x1="1402.4" y1="1239.2" x2="1402.4" y2="1250.7" stroke="#000" stroke-width="5.7"/>
<line x1="1473.6" y1="1239.2" x2="1473.6" y2="1262.2" stroke="#000" stroke-width="5.7"/>
<line x1="1544.9" y1="1239.2" x2="1544.9" y2="1250.7" stroke="#000" stroke-width="5.7"/>
<line x1="1616.1" y1="1239.2" x2="1616.1" y2="1262.2" stroke="#000" stroke-width="5.7"/>
<line x1="1687.3" y1="1239.2" x2="1687.3" y2="1250.7" stroke="#000" stroke-width="5.7"/>
<line x1="263.1" y1="115.9" x2="239.6" y2="115.9" stroke="#0000ff" stroke-width="5.7"/>
<line x1="263.1" y1="190.8" x2="251.1" y2="190.8" stroke="#0000ff" stroke-width="5.7"/>
<line x1="263.1" y1="265.7" x2="239.6" y2="265.7" stroke="#0000ff" stroke-width="5.7"/>
<line x1="263.1" y1="340.6" x2="251.1" y2="340.6" stroke="#0000ff" stroke-width="5.7"/>
<line x1="263.1" y1="415.4" x2="239.6" y2="415.4" stroke="#0000ff" stroke-width="5.7"/>
<line x1="263.1" y1="490.3" x2="251.1" y2="490.3" stroke="#0000ff" stroke-width="5.7"/>
<line x1="263.1" y1="565.2" x2="239.6" y2="565.2" stroke="#0000ff" stroke-width="5.7"/>
<line x1="263.1" y1="640.1" x2="251.1" y2="640.1" stroke="#0000ff" stroke-width="5.7"/>
<line x1="263.1" y1="715.0" x2="239.6" y2="715.0" stroke="#0000ff" stroke-width="5.7"/>
<line x1="263.1" y1="789.9" x2="251.1" y2="789.9" stroke="#0000ff" stroke-width="5.7"/>
<line x1="263.1" y1="864.8" x2="239.6" y2="864.8" stroke="#0000ff" stroke-width="5.7"/>
<line x1="263.1" y1="939.7" x2="251.1" y2="939.7" stroke="#0000ff" stroke-width="5.7"/>
<line x1="263.1" y1="1014.5" x2="239.6" y2="1014.5" stroke="#0000ff" stroke-width="5.7"/>
<line x1="263.1" y1="1089.4" x2="251.1" y2="1089.4" stroke="#0000ff" stroke-width="5.7"/>
<line x1="263.1" y1="1164.3" x2="239.6" y2="1164.3" stroke="#0000ff" stroke-width="5.7"/>
<line x1="263.1" y1="1239.2" x2="251.1" y2="1239.2" stroke="#0000ff" stroke-width="5.7"/>
<line x1="1730.0" y1="56.5" x2="1753.0" y2="56.5" stroke="#ff0000" stroke-width="5.7"/>
<line x1="1730.0" y1="130.4" x2="1741.5" y2="130.4" stroke="#ff0000" stroke-width="5.7"/>
<line x1="1730.0" y1="204.3" x2="1753.0" y2="204.3" stroke="#ff0000" stroke-width="5.7"/>
<line x1="1730.0" y1="278.3" x2="1741.5" y2="278.3" stroke="#ff0000" stroke-width="5.7"/>
<line x1="1730.0" y1="352.2" x2="1753.0" y2="352.2" stroke="#ff0000" stroke-width="5.7"/>
<line x1="1730.0" y1="426.1" x2="1741.5" y2="426.1" stroke="#ff0000" stroke-width="5.7"/>
<line x1="1730.0" y1="500.0" x2="1753.0" y2="500.0" stroke="#ff0000" stroke-width="5.7"/>
<line x1="1730.0" y1="573.9" x2="1741.5" y2="573.9" stroke="#ff0000" stroke-width="5.7"/>
<line x1="1730.0" y1="647.9" x2="1753.0" y2="647.9" stroke="#ff0000" stroke-width="5.7"/>
<line x1="1730.0" y1="721.8" x2="1741.5" y2="721.8" stroke="#ff0000" stroke-width="5.7"/>
<line x1="1730.0" y1="795.7" x2="1753.0" y2="795.7" stroke="#ff0000" stroke-width="5.7"/>
<line x1="1730.0" y1="869.6" x2="1741.5" y2="869.6" stroke="#ff0000" stroke-width="5.7"/>
<line x1="1730.0" y1="943.5" x2="1753.0" y2="943.5" stroke="#ff0000" stroke-width="5.7"/>
<line x1="1730.0" y1="1017.4" x2="1741.5" y2="1017.4" stroke="#ff0000" stroke-width="5.7"/>
<line x1="1730.0" y1="1091.4" x2="1753.0" y2="1091.4" stroke="#ff0000" stroke-width="5.7"/>
<line x1="1730.0" y1="1165.3" x2="1741.5" y2="1165.3" stroke="#ff0000" stroke-width="5.7"/>
<line x1="1730.0" y1="1239.2" x2="1753.0" y2="1239.2" stroke="#ff0000" stroke-width="5.7"/>
</g>
<g font-family="Liberation Serif, serif" font-weight="bold" stroke="#fff" stroke-width="1.0" stroke-linejoin="round">
<text x="301.3" y="1322.0" font-size="65.0" textLength="66.0" lengthAdjust="spacingAndGlyphs" fill="#000">50</text>
<text x="426.2" y="1322.0" font-size="65.0" textLength="98.4" lengthAdjust="spacingAndGlyphs" fill="#000">100</text>
<text x="568.6" y="1322.0" font-size="65.0" textLength="98.4" lengthAdjust="spacingAndGlyphs" fill="#000">150</text>
<text x="713.8" y="1322.0" font-size="65.0" textLength="95.6" lengthAdjust="spacingAndGlyphs" fill="#000">200</text>
<text x="856.2" y="1322.0" font-size="65.0" textLength="95.6" lengthAdjust="spacingAndGlyphs" fill="#000">250</text>
<text x="998.6" y="1322.0" font-size="65.0" textLength="95.6" lengthAdjust="spacingAndGlyphs" fill="#000">300</text>
<text x="1141.0" y="1322.0" font-size="65.0" textLength="95.6" lengthAdjust="spacingAndGlyphs" fill="#000">350</text>
<text x="1285.0" y="1322.0" font-size="65.0" textLength="93.9" lengthAdjust="spacingAndGlyphs" fill="#000">400</text>
<text x="1427.5" y="1322.0" font-size="65.0" textLength="93.9" lengthAdjust="spacingAndGlyphs" fill="#000">450</text>
<text x="1568.3" y="1322.0" font-size="65.0" textLength="95.6" lengthAdjust="spacingAndGlyphs" fill="#000">500</text>
<text x="126.8" y="130.1" font-size="65.0" textLength="98.7" lengthAdjust="spacingAndGlyphs" fill="#0000ff">100</text>
<text x="161.5" y="279.9" font-size="65.0" textLength="63.6" lengthAdjust="spacingAndGlyphs" fill="#0000ff">95</text>
<text x="161.5" y="429.6" font-size="65.0" textLength="64.0" lengthAdjust="spacingAndGlyphs" fill="#0000ff">90</text>
<text x="161.2" y="579.4" font-size="65.0" textLength="64.0" lengthAdjust="spacingAndGlyphs" fill="#0000ff">85</text>
<text x="161.1" y="729.2" font-size="65.0" textLength="64.3" lengthAdjust="spacingAndGlyphs" fill="#0000ff">80</text>
<text x="159.8" y="879.0" font-size="65.0" textLength="65.4" lengthAdjust="spacingAndGlyphs" fill="#0000ff">75</text>
<text x="159.8" y="1028.8" font-size="65.0" textLength="65.7" lengthAdjust="spacingAndGlyphs" fill="#0000ff">70</text>
<text x="161.2" y="1178.5" font-size="65.0" textLength="64.0" lengthAdjust="spacingAndGlyphs" fill="#0000ff">65</text>
<text x="1768.0" y="70.7" font-size="65.0" textLength="63.8" lengthAdjust="spacingAndGlyphs" fill="#ff0000">40</text>
<text x="1766.4" y="218.5" font-size="65.0" textLength="65.5" lengthAdjust="spacingAndGlyphs" fill="#ff0000">30</text>
<text x="1766.4" y="366.4" font-size="65.0" textLength="65.5" lengthAdjust="spacingAndGlyphs" fill="#ff0000">20</text>
<text x="1763.5" y="514.2" font-size="65.0" textLength="68.5" lengthAdjust="spacingAndGlyphs" fill="#ff0000">10</text>
<text x="1766.2" y="662.1" font-size="65.0" textLength="35.2" lengthAdjust="spacingAndGlyphs" fill="#ff0000">0</text>
<text x="1765.6" y="809.9" font-size="65.0" textLength="98.2" lengthAdjust="spacingAndGlyphs" fill="#ff0000">−10</text>
<text x="1765.6" y="957.7" font-size="65.0" textLength="98.2" lengthAdjust="spacingAndGlyphs" fill="#ff0000">−20</text>
<text x="1765.6" y="1105.6" font-size="65.0" textLength="98.2" lengthAdjust="spacingAndGlyphs" fill="#ff0000">−30</text>
<text x="1765.6" y="1253.4" font-size="65.0" textLength="98.2" lengthAdjust="spacingAndGlyphs" fill="#ff0000">−40</text>
</g>
<g font-family="Liberation Serif, serif" font-weight="bold" stroke="#fff" stroke-width="1.0" stroke-linejoin="round">
<text x="731.2" y="1434.7" font-size="74.0" textLength="529.5" lengthAdjust="spacingAndGlyphs" fill="#000">Temperature (°C)</text>
<text transform="translate(86.0,820.0) rotate(-90)" x="0" y="0" font-size="74.0" textLength="345.3" lengthAdjust="spacingAndGlyphs" fill="#0000ff">Weight (%)</text>
<text transform="translate(1934.3,889.4) rotate(-90)" x="0" y="0" font-size="74.0" textLength="501.8" lengthAdjust="spacingAndGlyphs" fill="#ff0000">Heat Flow (mW)</text>
<text x="1866.4" y="1178.0" font-size="67.0" textLength="102.1" lengthAdjust="spacingAndGlyphs" fill="#ff0000">Exo</text>
</g>
<line x1="1913.9" y1="911" x2="1913.9" y2="1100" stroke="#ff0000" stroke-width="5"/>
<polygon points="1903.3,1092.2 1924.1,1092.2 1913.6,1135.5" fill="#ff0000"/>
</svg></body></html>
